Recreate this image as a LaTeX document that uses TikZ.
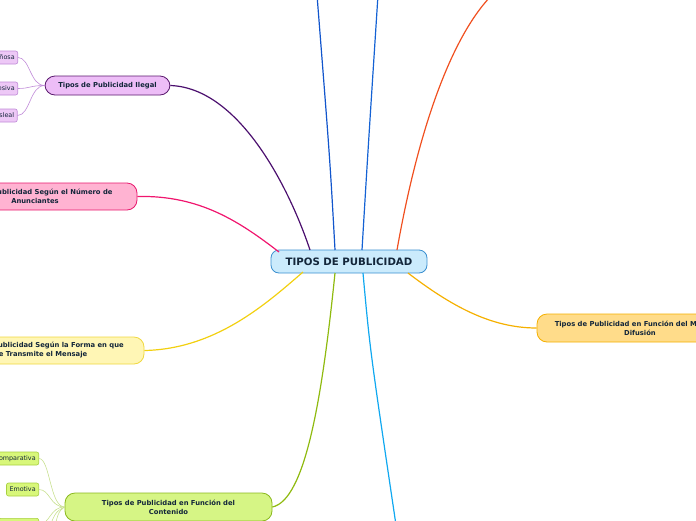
\documentclass[tikz,border=0pt]{standalone}
\usepackage{fontspec}
\setmainfont{DejaVu Sans}
\definecolor{txt}{HTML}{13263A}
\definecolor{cfill}{HTML}{CBEBFC}\definecolor{cline}{HTML}{3A8FD0}
\definecolor{pfill}{HTML}{EDBDF7}\definecolor{pline}{HTML}{5A1A6E}\definecolor{pleaf}{HTML}{EDC8F6}\definecolor{pleafl}{HTML}{C08AD8}\definecolor{pconn}{HTML}{4B0F6E}
\definecolor{kfill}{HTML}{FFB3D2}\definecolor{kline}{HTML}{E8196E}\definecolor{kconn}{HTML}{F0166E}
\definecolor{yfill}{HTML}{FFF6B5}\definecolor{yline}{HTML}{F0D840}\definecolor{yconn}{HTML}{F2D010}
\definecolor{gfill}{HTML}{D6F585}\definecolor{gline}{HTML}{8AB81E}\definecolor{gconn}{HTML}{8FBA0F}\definecolor{gleaf}{HTML}{D8F77A}\definecolor{gleafl}{HTML}{A8D040}\definecolor{gleafc}{HTML}{C8E090}
\definecolor{ofill}{HTML}{FFDC8A}\definecolor{oline}{HTML}{F5B000}\definecolor{oconn}{HTML}{F5B000}
\definecolor{blue1}{HTML}{1155CC}\definecolor{blue2}{HTML}{1462D4}\definecolor{red1}{HTML}{F05020}\definecolor{cyan1}{HTML}{10A8F0}
\tikzset{
  central/.style={draw=cline,fill=cfill,line width=0.8pt,rounded corners=8pt,minimum width=156pt,minimum height=23pt,inner sep=0pt,font=\bfseries\fontsize{10.2}{12}\selectfont,text=txt},
  branch/.style={draw=#1,line width=0.8pt,rounded corners=10pt,inner sep=0pt,font=\bfseries\fontsize{6.8}{9}\selectfont,text=txt,align=center},
  leaf/.style={draw=#1,line width=0.6pt,rounded corners=2pt,minimum height=13pt,inner xsep=3pt,inner ysep=0pt,font=\fontsize{6.4}{7}\selectfont,text=txt},
  conn/.style={draw=#1,line width=1.2pt},
  lconn/.style={draw=#1,line width=0.6pt}
}
\begin{document}
\begin{tikzpicture}[x=1pt,y=-1pt]
\useasboundingbox (0,0) rectangle (696,520);
\clip (0,0) rectangle (696,520);
% nodes
\node[central] (c) at (349,261.5) {TIPOS DE PUBLICIDAD};
\node[branch=pline,fill=pfill,minimum width=125pt,minimum height=19pt] (p) at (107.5,85.5) {Tipos de Publicidad Ilegal};
\node[branch=kline,fill=kfill,minimum width=204pt,minimum height=27pt] (k) at (35,196.5) {Tipos de Publicidad Según el Número de\\Anunciantes};
\node[branch=yline,fill=yfill,minimum width=206pt,minimum height=27pt] (y) at (41,350.5) {Tipos de Publicidad Según la Forma en que\\se Transmite el Mensaje};
\node[branch=gline,fill=gfill,minimum width=207pt,minimum height=28pt] (g) at (168.5,507) {Tipos de Publicidad en Función del\\Contenido};
\node[branch=oline,fill=ofill,minimum width=206pt,minimum height=28pt] (o) at (640,328) {Tipos de Publicidad en Función del Medio de\\Difusión};
% purple leaves
\node[leaf=pleafl,fill=pleaf,anchor=east] (p1) at (18,57.5) {Engañosa};
\node[leaf=pleafl,fill=pleaf,anchor=east] (p2) at (18,88.5) {Agresiva};
\node[leaf=pleafl,fill=pleaf,anchor=east] (p3) at (17.5,115.5) {Desleal};
% green leaves
\node[leaf=gleafl,fill=gleaf,anchor=east] (g1) at (39,458.5) {Comparativa};
\node[leaf=gleafl,fill=gleaf,anchor=east] (g2) at (39,489.5) {Emotiva};
\node[leaf=gleafl,fill=gleaf,anchor=north east,minimum width=40pt] (g3) at (39,518) {};
\coordinate (g4) at (45,540);
\coordinate (g5) at (52,540);
% off-page ends
\coordinate (t1) at (317,-5);
\coordinate (t2) at (378,-5);
\coordinate (t3) at (495,-8);
\coordinate (b1) at (396,525);
% main connectors
\draw[conn=pconn] (p.east) .. controls (240,88) and (290,190) .. (310,250);
\draw[conn=kconn] (k.east) .. controls (200,195) and (240,222) .. (279,252);
\draw[conn=yconn] (y.east) .. controls (215,349) and (265,305) .. (303,272);
\draw[conn=gconn] (g.east) .. controls (305,500) and (322,400) .. (335,273);
\draw[conn=oconn] (408,273) .. controls (450,305) and (490,328) .. (o.west);
\draw[conn=blue1] (335,250) .. controls (330,160) .. (t1);
\draw[conn=blue2] (362,250) .. controls (368,150) .. (t2);
\draw[conn=red1] (397,250) .. controls (420,120) and (455,30) .. (t3);
\draw[conn=cyan1] (363,273) .. controls (370,350) .. (b1);
% leaf connectors
\draw[lconn=pleafl] (p.west) .. controls (30,85.5) and (30,57.5) .. (p1.east);
\draw[lconn=pleafl] (p.west) .. controls (30,85.5) and (30,88.5) .. (p2.east);
\draw[lconn=pleafl] (p.west) .. controls (30,85.5) and (30,115.5) .. (p3.east);
\draw[lconn=gleafc] (g.west) .. controls (50,507) and (50,458.5) .. (g1.east);
\draw[lconn=gleafc] (g.west) .. controls (50,507) and (50,489.5) .. (g2.east);
\draw[lconn=gleafc] (g.west) .. controls (50,507) and (50,524) .. (g3.east);
\draw[lconn=gleafc] (g.west) .. controls (55,512) .. (g4);
\draw[lconn=gleafc] (g.west) .. controls (58,512) .. (g5);
\end{tikzpicture}
\end{document}
